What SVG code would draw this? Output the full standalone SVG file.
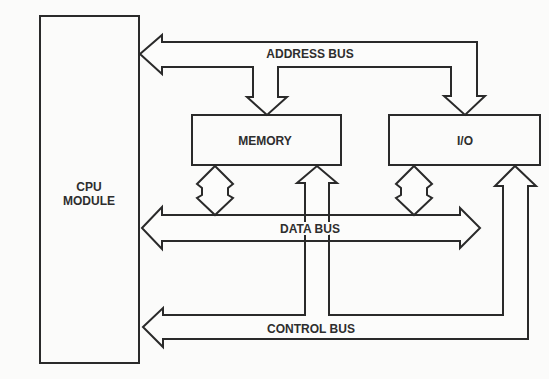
<svg xmlns="http://www.w3.org/2000/svg" width="549" height="379" viewBox="0 0 549 379">
  <style>
    .box { fill: none; stroke: #2a2a2a; stroke-width: 2; }
    .bus { fill: #fcfcfb; stroke: #2a2a2a; stroke-width: 2; stroke-linejoin: miter; }
    .open { fill: none; stroke: #2a2a2a; stroke-width: 2; }
    .lbl { font-family: "Liberation Sans", Arial, sans-serif; font-weight: bold; font-size: 12px; fill: #2e2e2e; text-anchor: middle; }
    .halo { stroke: #fcfcfb; stroke-width: 4; paint-order: stroke; }
  </style>
  <rect x="0" y="0" width="549" height="379" fill="#fbfbfa"/>

  <!-- Units -->
  <g id="cpu">
    <rect class="box" x="40" y="16" width="99" height="347"/>
    <text class="lbl" x="89" y="191" font-size="10.5">CPU</text>
    <text class="lbl" x="89" y="205" font-size="10.5">MODULE</text>
  </g>
  <g id="memory">
    <rect class="box" x="192" y="115" width="149" height="50"/>
    <text class="lbl" x="265" y="145">MEMORY</text>
  </g>
  <g id="io">
    <rect class="box" x="389" y="115" width="151" height="50"/>
    <text class="lbl" x="465" y="145">I/O</text>
  </g>

  <!-- Buses -->
  <g id="connectors">
    <!-- address bus: CPU <- bus -> memory, I/O -->
    <path class="bus" d="M140,54 L162,35 L162,42 L477,42 L477,96 L485,96 L465,115 L444,96 L451,96 L451,67 L278,67 L278,97 L287,97 L267,115 L247,97 L253,97 L253,67 L162,67 L162,74 Z"/>

    <!-- control bus: CPU <- bus -> memory, I/O -->
    <path class="bus" d="M143,327 L163,308 L163,315 L305,315 L305,183 L297,183 L317,166 L337,183 L329,183 L329,315 L503,315 L503,186 L495,186 L515,166 L536,186 L528,186 L528,339 L163,339 L163,347 Z"/>

    <!-- data bus -->
    <path class="bus" d="M142,228 L162,207 L162,215 L460,215 L460,208 L480,228 L460,248 L460,241 L162,241 L162,249 Z"/>

    <!-- memory <-> data bus -->
    <path class="bus" d="M215,166 L233,184 L228,188 L228,195 L233,198 L215,215 L197,198 L202,195 L202,188 L197,184 Z"/>
    <!-- I/O <-> data bus -->
    <path class="bus" d="M414,166 L432,184 L427,188 L427,195 L432,198 L414,215 L396,198 L401,195 L401,188 L396,184 Z"/>

    <!-- control shaft seen through the data bus -->
    <path class="open" d="M305,215 L305,241 M329,215 L329,241"/>

    <text class="lbl" x="310" y="58">ADDRESS BUS</text>
    <text class="lbl halo" x="310" y="233">DATA BUS</text>
    <text class="lbl" x="311" y="333">CONTROL BUS</text>
  </g>
</svg>
